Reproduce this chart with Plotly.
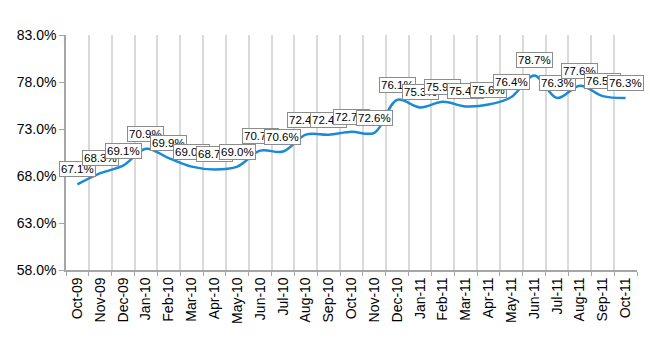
import plotly.graph_objects as go

months = ["Oct-09", "Nov-09", "Dec-09", "Jan-10", "Feb-10", "Mar-10", "Apr-10", "May-10",
          "Jun-10", "Jul-10", "Aug-10", "Sep-10", "Oct-10", "Nov-10", "Dec-10", "Jan-11",
          "Feb-11", "Mar-11", "Apr-11", "May-11", "Jun-11", "Jul-11", "Aug-11", "Sep-11", "Oct-11"]
values = [67.1, 68.3, 69.1, 70.9, 69.9, 69.0, 68.7, 69.0,
          70.7, 70.6, 72.4, 72.4, 72.7, 72.6, 76.1, 75.3,
          75.9, 75.4, 75.6, 76.4, 78.7, 76.3, 77.6, 76.5, 76.3]
y_ticks = [58.0, 63.0, 68.0, 73.0, 78.0, 83.0]

FONT = "Liberation Sans, Arial, sans-serif"

fig = go.Figure()
fig.add_trace(go.Scatter(
    x=months, y=values, mode="lines",
    line=dict(color="#1A8AD4", width=2.5, shape="spline", smoothing=1.0),
    hoverinfo="skip", showlegend=False,
))

annotations = []
for m, v in zip(months, values):
    annotations.append(dict(
        x=m, y=v, xref="x", yref="y", text=f"{v:.1f}%", showarrow=False,
        xanchor="center", yanchor="bottom", yshift=7,
        font=dict(family=FONT, size=11.5, color="#000000"),
        bgcolor="#FFFFFF", bordercolor="#8C8C8C", borderwidth=1, borderpad=1,
    ))

fig.update_layout(
    width=650, height=350,
    margin=dict(l=66, r=13, t=35, b=80),
    paper_bgcolor="white", plot_bgcolor="white",
    annotations=annotations,
    xaxis=dict(
        type="category", categoryorder="array", categoryarray=months,
        tickson="boundaries", showgrid=True, gridcolor="#DADADA", gridwidth=2,
        ticks="outside", ticklen=4, tickcolor="#A6A6A6",
        showline=True, linecolor="#A6A6A6", linewidth=1.5,
        tickangle=-90, tickfont=dict(family=FONT, size=14, color="#000000"),
        range=[-0.5, len(months) - 0.5], fixedrange=True,
    ),
    yaxis=dict(
        range=[58, 83], tickvals=y_ticks, ticktext=[f"{t:.1f}%" for t in y_ticks],
        showgrid=False, zeroline=False,
        ticks="outside", ticklen=5, tickcolor="#A6A6A6",
        showline=True, linecolor="#A6A6A6", linewidth=1.5,
        tickfont=dict(family=FONT, size=14, color="#000000"), fixedrange=True,
    ),
)

fig.write_html("out.html")
